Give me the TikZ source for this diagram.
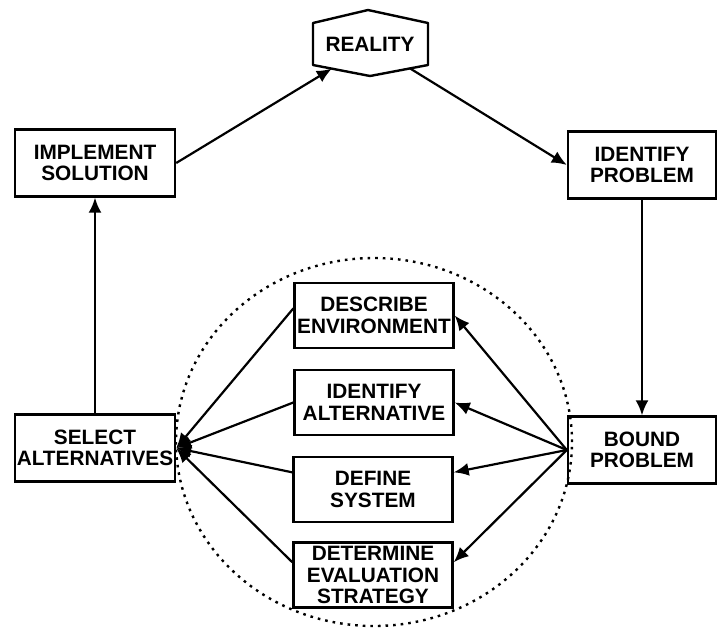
\documentclass[tikz,border=0pt]{standalone}
\usepackage{fontspec}
\setmainfont{Liberation Sans}
\usetikzlibrary{arrows.meta, calc}

\begin{document}
\begin{tikzpicture}[x=1pt, y=-1pt,
  stage/.style={draw, line width=2.4pt, inner sep=0pt, align=center,
    font=\fontsize{20.8}{21.5}\selectfont\bfseries},
  widebox/.style={stage, minimum width=160pt, minimum height=67pt},
  sidebox/.style={stage, minimum width=148pt, minimum height=67pt},
  midbox/.style={stage, minimum width=159pt, minimum height=65pt},
  flow/.style={line width=2.2pt, -{Latex[length=15pt, width=13pt]}}]
  \useasboundingbox (0,0) rectangle (717,633);

  % Reality hexagon
  \node[font=\fontsize{20.8}{21.5}\selectfont\bfseries, inner sep=0pt] (real) at (370,44) {REALITY};
  \coordinate (r-tl) at ($(real)+(-57,-21)$);
  \coordinate (r-t)  at ($(real)+(-2,-34)$);
  \coordinate (r-tr) at ($(real)+(58,-21)$);
  \coordinate (r-br) at ($(real)+(58,21)$);
  \coordinate (r-b)  at ($(real)+(0,32)$);
  \coordinate (r-bl) at ($(real)+(-57,21)$);
  \draw[line width=2.4pt, line join=round] (r-tl) -- (r-t) -- (r-tr) -- (r-br) -- (r-b) -- (r-bl) -- cycle;

  % outer loop
  \node[widebox] (impl) at (95,163) {IMPLEMENT\\SOLUTION};
  \node[sidebox] (idp) at (642,165) {IDENTIFY\\PROBLEM};
  \node[sidebox] (bound) at (642,450) {BOUND\\PROBLEM};
  \node[widebox] (sel) at (95,448) {SELECT\\ALTERNATIVES};

  % inner steps
  \node[midbox] (desc) at (374,315.5) {DESCRIBE\\ENVIRONMENT};
  \node[midbox] (idalt) at (374,402.5) {IDENTIFY\\ALTERNATIVE};
  \node[midbox] (defs) at (373,489.5) {DEFINE\\SYSTEM};
  \node[midbox] (det) at (373,575) {DETERMINE\\EVALUATION\\STRATEGY};

  \draw[line width=2.4pt, dash pattern=on 2.6pt off 5pt] (374,442) ellipse [x radius=198pt, y radius=184pt];

  \coordinate (r-in) at ($(r-bl)!0.33!(r-b)$);
  \coordinate (r-out) at ($(r-br)!0.31!(r-b)$);
  \draw[flow] (impl.east) -- (r-in);
  \draw[flow] (r-out) -- (idp.west);
  \draw[flow] (idp.south) -- (bound.north);
  \draw[flow] (sel.north) -- (impl.south);

  \draw[flow] (bound.west) -- (desc.east);
  \draw[flow] (bound.west) -- (idalt.east);
  \draw[flow] (bound.west) -- (defs.12);
  \draw[flow] (bound.west) -- (det.9);

  \draw[flow] (desc.175) -- (sel.east);
  \draw[flow] (idalt.west) -- (sel.east);
  \draw[flow] (defs.168) -- (sel.east);
  \draw[flow] (det.171) -- (sel.east);
\end{tikzpicture}
\end{document}
